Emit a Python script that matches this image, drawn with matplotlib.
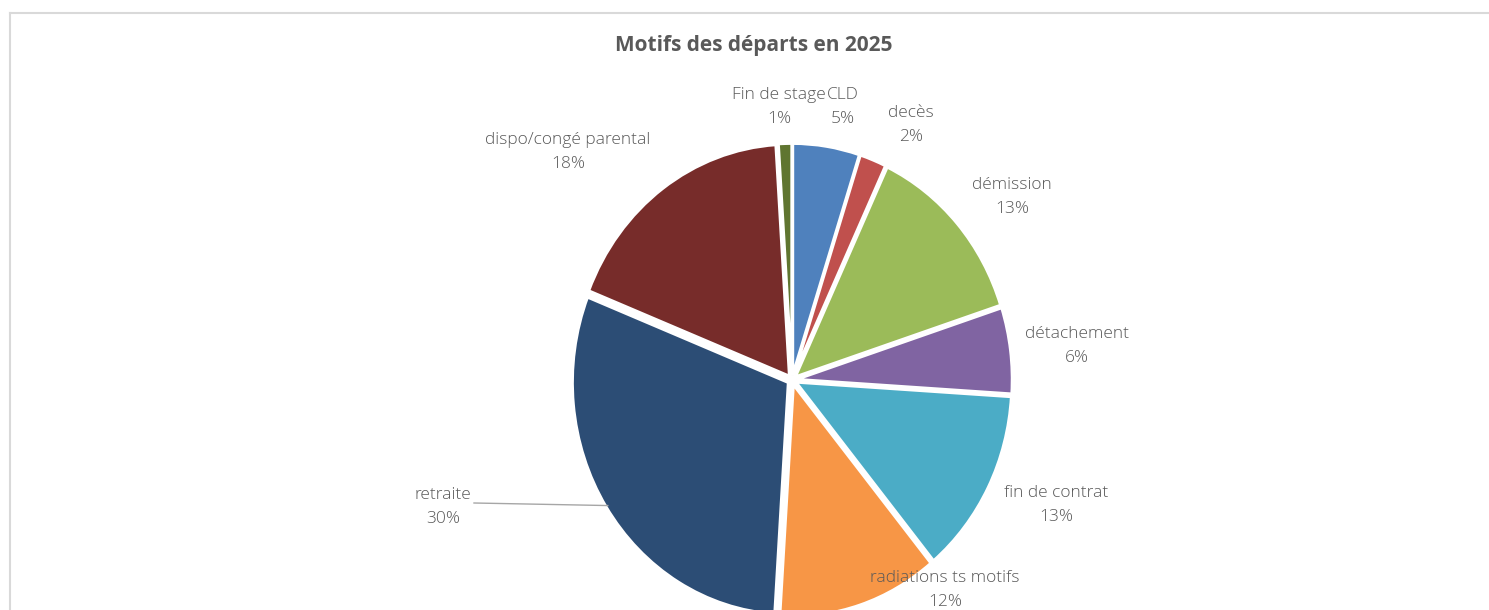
import matplotlib
matplotlib.use("Agg")
import matplotlib.pyplot as plt
from matplotlib.lines import Line2D
import numpy as np

# Data (percent of departures, clockwise from 12 o'clock)
motifs = ["CLD", "decès", "démission", "détachement", "fin de contrat",
          "radiations ts motifs", "retraite", "dispo/congé parental", "Fin de stage"]
parts = [5, 2, 13, 6, 13, 12, 30, 18, 1]
couleurs = ["#4F81BD", "#C0504D", "#9BBB59", "#8064A2", "#4BACC6",
            "#F79646", "#2C4D75", "#772C2A", "#5F7530"]

# label anchor (pixel centre of the two-line block)
label_pos = [(843, 107), (911, 125), (1012, 197), (1077, 346), (1056, 505),
             (945, 590), (443, 507), (568, 152), (779, 107)]

W, H = 1489, 610
cx, cy = 792, 380   # pie centre in pixels
rx, ry = 216, 232   # slightly stretched vertically, as in the screenshot

plt.rcParams['font.family'] = ['Open Sans', 'DejaVu Sans']

fig = plt.figure(figsize=(W / 100, H / 100), dpi=100)
ax = fig.add_axes([0, 0, 1, 1])

wedges, _ = ax.pie(parts, colors=couleurs, startangle=90, counterclock=False,
                   explode=[0.02] * len(parts), radius=1.0,
                   wedgeprops=dict(edgecolor="white", linewidth=2.2))
ax.set_aspect("auto")
ax.set_xlim((0 - cx) / rx, (W - cx) / rx)
ax.set_ylim((cy - H) / ry, cy / ry)
ax.axis("off")


def to_data(px, py):
    return (px - cx) / rx, (cy - py) / ry


# labels
for nom, p, (px, py) in zip(motifs, parts, label_pos):
    fig.text(px / W, 1 - py / H, "%s\n%d%%" % (nom, p), ha="center", va="center",
             fontsize=12.5, color="#595959", fontweight="light", linespacing=1.65)

# leader line for "retraite"
w = wedges[motifs.index("retraite")]
mid = np.deg2rad((w.theta1 + w.theta2) / 2)
x0, y0 = np.cos(mid) * 1.01, np.sin(mid) * 1.01
x1, y1 = to_data(474, 503)
ax.plot([x1, x0], [y1, y0], color="#A6A6A6", lw=1)

# title
fig.text(754 / W, 1 - 45 / H, "Motifs des départs en 2025", ha="center", va="center",
         fontsize=15, fontweight="bold", color="#595959")

# chart frame (top and left borders visible)
fig.add_artist(Line2D([10 / W, 1], [1 - 13 / H, 1 - 13 / H], transform=fig.transFigure,
                      color="#D9D9D9", lw=1.5))
fig.add_artist(Line2D([10 / W, 10 / W], [0, 1 - 13 / H], transform=fig.transFigure,
                      color="#D9D9D9", lw=1.5))

plt.savefig("out.png", dpi=100)
